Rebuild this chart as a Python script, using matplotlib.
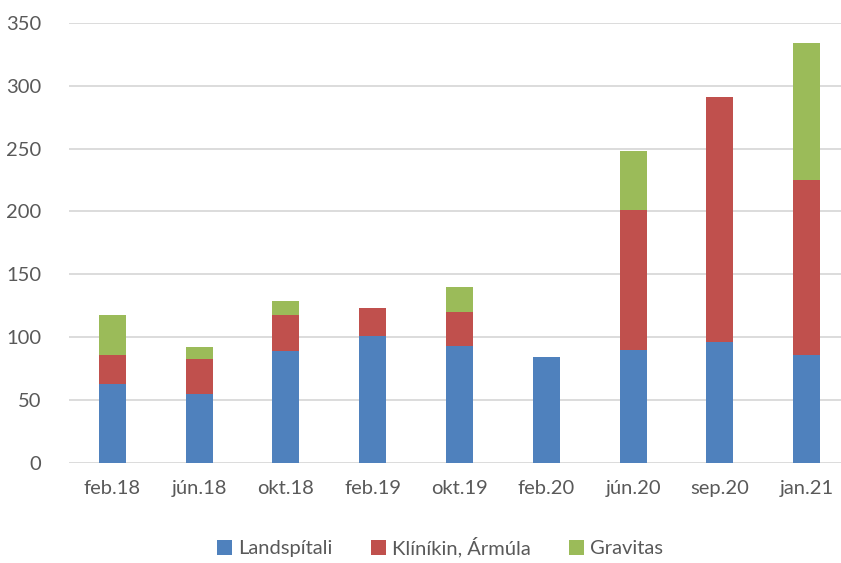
import matplotlib
matplotlib.use("Agg")
from matplotlib import pyplot as plt
import numpy as np

# data
dates = ["feb.18", "jún.18", "okt.18", "feb.19", "okt.19", "feb.20", "jún.20", "sep.20", "jan.21"]
landspitali = [63, 55, 89, 101, 93, 84, 90, 96, 86]
klinikin = [23, 28, 29, 22, 27, 0, 111, 195, 139]
gravitas = [32, 9, 11, 0, 20, 0, 47, 0, 109]

series = [
    ("Landspítali", landspitali, "#4F81BD"),
    ("Klíníkin, Ármúla", klinikin, "#C0504D"),
    ("Gravitas", gravitas, "#9BBB59"),
]

plt.rcParams['font.family'] = ['Lato', 'DejaVu Sans']
text_col = "#595959"

fig = plt.figure(figsize=(8.41, 5.63), dpi=100)
W, H = 841, 563
ax = fig.add_axes([69 / W, 100 / H, (850 - 69) / W, (463 - 22.7) / H])

x = np.arange(len(dates))
bottom = np.zeros(len(dates))
for name, vals, col in series:
    ax.bar(x, vals, width=0.31, bottom=bottom, color=col, label=name, zorder=3)
    bottom += np.array(vals)

ax.set_xlim(-0.5, len(dates) - 0.5)
ax.set_ylim(0, 350)
ax.set_yticks(range(0, 351, 50))
ax.set_xticks(x)
ax.set_xticklabels(dates)
ax.yaxis.grid(True, color="#D9D9D9", linewidth=1.3, zorder=0)
for s in ax.spines.values():
    s.set_visible(False)
ax.tick_params(axis="both", length=0, labelsize=14.5, colors=text_col)
ax.tick_params(axis="x", pad=12)
ax.tick_params(axis="y", pad=20)

fig.legend(loc="center", bbox_to_anchor=(440 / W, 1 - 547 / H), ncol=3, frameon=False,
           fontsize=14.5, labelcolor=text_col, handlelength=0.75, handleheight=0.75,
           handletextpad=0.3, columnspacing=1.9)

fig.savefig("out.png", dpi=100)
